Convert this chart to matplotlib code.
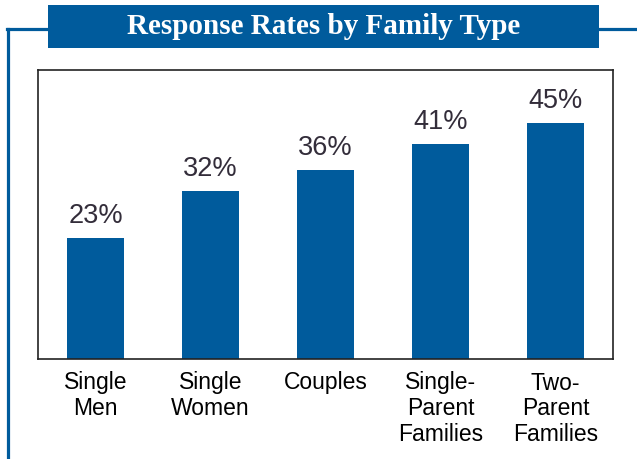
import matplotlib.pyplot as plt
from matplotlib.patches import Rectangle
from matplotlib.lines import Line2D

# datos
categorias = ['Single\nMen', 'Single\nWomen', 'Couples', 'Single-\nParent\nFamilies', 'Two-\nParent\nFamilies']
tasas = [23, 32, 36, 41, 45]
titulo = 'Response Rates by Family Type'

azul = '#005B9C'
W, H = 637, 459

fig = plt.figure(figsize=(W / 100, H / 100), dpi=100)

# marco azul (lineas)
lw = 2.3
fig.add_artist(Line2D([8 / W, 8 / W], [1 - 29 / H, 0], color=azul, lw=lw, transform=fig.transFigure))
fig.add_artist(Line2D([7 / W, 48 / W], [1 - 29 / H, 1 - 29 / H], color=azul, lw=lw, transform=fig.transFigure))
fig.add_artist(Line2D([599 / W, 1], [1 - 29 / H, 1 - 29 / H], color=azul, lw=lw, transform=fig.transFigure))

# caja del titulo
fig.add_artist(Rectangle((48 / W, 1 - 48 / H), (599 - 48) / W, 43 / H,
                         facecolor=azul, edgecolor='none', transform=fig.transFigure))
fig.text((48 + 599) / 2 / W, 1 - 27 / H, titulo, color='white', fontsize=21,
         fontweight='bold', family='Liberation Serif', ha='center', va='center')

# grafico de barras
ax = fig.add_axes([38 / W, 100 / H, 575 / W, 289 / H])
x = range(len(categorias))
barras = ax.bar(x, tasas, width=0.5, color=azul)
for xi, v in zip(x, tasas):
    ax.text(xi, v + 1.7, f'{v}%', ha='center', va='bottom', fontsize=19.5,
            color='#332D3A', family='Liberation Sans')

ax.set_xlim(-0.5, 4.5)
ax.set_ylim(0, 55)
ax.set_yticks([])
ax.set_xticks(list(x))
ax.set_xticklabels(categorias, fontsize=16.5, family='Liberation Sans', linespacing=1.15)
ax.tick_params(axis='x', length=0, pad=9)
for s in ax.spines.values():
    s.set_linewidth(1.2)
    s.set_color('#222222')

fig.savefig('out.png', dpi=100)
